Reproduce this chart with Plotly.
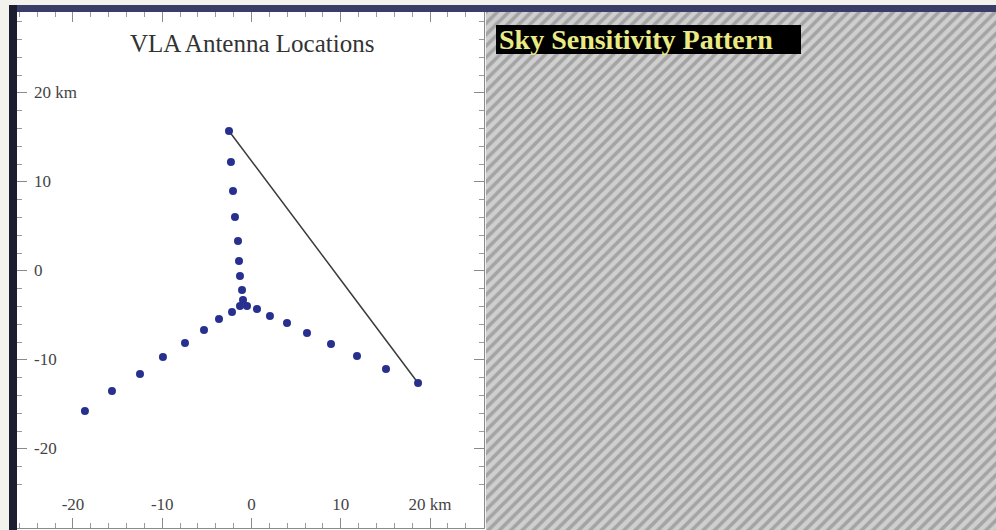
import plotly.graph_objects as go

# Antenna positions (km)
north_x = [-2.52, -2.30, -2.07, -1.85, -1.51, -1.40, -1.29, -1.06, -0.95]
north_y = [15.73, 12.25, 8.99, 6.07, 3.37, 1.12, -0.56, -2.13, -3.26]
east_x = [-0.50, 0.62, 2.07, 3.98, 6.22, 8.91, 11.82, 15.07, 18.66]
east_y = [-3.93, -4.27, -5.06, -5.84, -6.97, -8.20, -9.55, -11.01, -12.58]
west_x = [-1.29, -2.18, -3.64, -5.32, -7.45, -9.92, -12.49, -15.63, -18.66]
west_y = [-3.93, -4.61, -5.39, -6.63, -8.09, -9.66, -11.57, -13.48, -15.73]

# Baseline drawn between the two outermost antennas
baseline_x = [north_x[0], east_x[-1]]
baseline_y = [north_y[0], east_y[-1]]

tick_vals = [-20, -10, 0, 10, 20]
x_tick_text = ["-20", "-10", "0", "10", "20 km"]
y_tick_text = ["-20", "-10", "0", "10", "20 km"]

W, H = 996, 530
SERIF = "Liberation Serif, Times New Roman, serif"
TICK_FONT = dict(family=SERIF, size=17, color="#444444")


def px(x):
    return x / W


def py(y):
    return 1 - y / H


ant_x = north_x + east_x + west_x
ant_y = north_y + east_y + west_y

fig = go.Figure()

fig.add_trace(go.Scatter(
    x=baseline_x, y=baseline_y, mode="lines",
    line=dict(color="#3a3a3a", width=1.5),
    hoverinfo="skip", showlegend=False, xaxis="x", yaxis="y"))

fig.add_trace(go.Scatter(
    x=ant_x, y=ant_y, mode="markers",
    marker=dict(color="#28308f", size=8, line=dict(width=0)),
    showlegend=False, xaxis="x", yaxis="y"))

# Hatched sky sensitivity panel
fig.add_trace(go.Scatter(
    x=[0, 1, 1, 0, 0], y=[0, 0, 1, 1, 0], mode="lines",
    fill="toself", line=dict(width=0),
    fillcolor="#c8c8c8",
    fillpattern=dict(shape="/", size=8, solidity=0.45,
                     fgcolor="#7a7a7a", bgcolor="#cfcfcf"),
    hoverinfo="skip", showlegend=False, xaxis="x2", yaxis="y2"))

axis_common = dict(
    showgrid=False, zeroline=False, showline=True, linecolor="#8a8a8a",
    linewidth=1, mirror="ticks", ticks="inside", ticklen=10,
    tickcolor="#8a8a8a", tickwidth=1, tickmode="array", tickvals=tick_vals,
    minor=dict(tickmode="linear", tick0=0, dtick=2, ticks="inside",
               ticklen=5, tickcolor="#9a9a9a", tickwidth=1, showgrid=False),
)

# y tick labels placed at the y axis's own tick values (inside the frame)
y_label_annotations = [
    dict(text=t, xref="paper", yref="y", x=px(32), y=v,
         xanchor="left", yanchor="middle", showarrow=False, font=TICK_FONT)
    for v, t in zip(tick_vals, y_tick_text)
]

fig.update_layout(
    width=W, height=H,
    margin=dict(l=0, r=0, t=0, b=0),
    paper_bgcolor="#f4f2ec",
    plot_bgcolor="white",
    xaxis=dict(domain=[px(17), px(484)], range=[-26.27, 26.05],
               ticktext=x_tick_text, anchor="y",
               ticklabelposition="inside", ticklabelstandoff=5,
               tickfont=TICK_FONT, **axis_common),
    yaxis=dict(domain=[py(528), py(12)], range=[-28.88, 29.1],
               ticktext=y_tick_text, anchor="x", showticklabels=False,
               **axis_common),
    xaxis2=dict(domain=[px(486), 1], range=[0, 1], visible=False,
                anchor="y2", fixedrange=True),
    yaxis2=dict(domain=[0, py(12)], range=[0, 1], visible=False,
                anchor="x2", fixedrange=True),
    shapes=[
        dict(type="rect", xref="paper", yref="paper",
             x0=px(17), x1=px(486), y0=0, y1=py(528),
             fillcolor="white", line=dict(width=0), layer="below"),
        # top dark band
        dict(type="rect", xref="paper", yref="paper",
             x0=px(9), x1=1, y0=py(12), y1=py(5),
             fillcolor="#3b3d69", line=dict(width=0)),
        # left dark band
        dict(type="rect", xref="paper", yref="paper",
             x0=px(9), x1=px(17), y0=0, y1=py(5),
             fillcolor="#1c1d30", line=dict(width=0)),
        # black box behind the right-panel title
        dict(type="rect", xref="paper", yref="paper",
             x0=px(496), x1=px(801), y0=py(54), y1=py(25),
             fillcolor="black", line=dict(width=0)),
    ],
    annotations=[
        dict(text="VLA Antenna Locations", xref="paper", yref="paper",
             x=px(252), y=py(44), xanchor="center", yanchor="middle",
             showarrow=False,
             font=dict(family=SERIF, size=25, color="#333333")),
        dict(text="<b>Sky Sensitivity Pattern</b>", xref="paper",
             yref="paper", x=px(497), y=py(40), xanchor="left",
             yanchor="middle", showarrow=False,
             font=dict(family=SERIF, size=28, color="#eaea84")),
    ] + y_label_annotations,
)

fig.write_html("out.html")
